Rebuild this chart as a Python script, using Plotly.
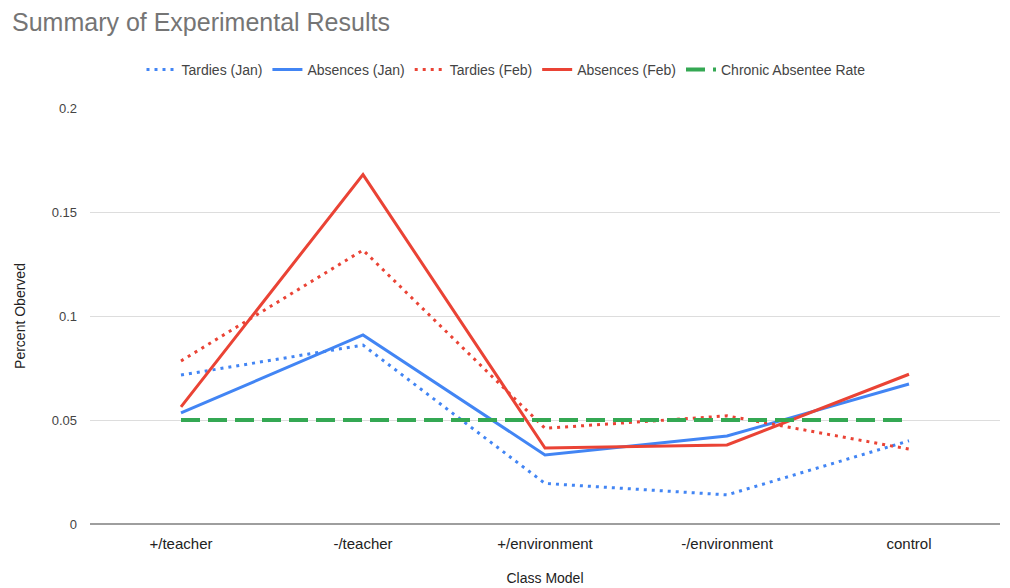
import plotly.graph_objects as go

categories = ["+/teacher", "-/teacher", "+/environment", "-/environment", "control"]
tardies_jan = [0.0716, 0.086, 0.0195, 0.014, 0.040]
absences_jan = [0.0534, 0.0909, 0.0332, 0.0423, 0.0673]
tardies_feb = [0.0784, 0.1317, 0.046, 0.052, 0.036]
absences_feb = [0.0563, 0.168, 0.0365, 0.038, 0.072]
chronic_rate = [0.05, 0.05, 0.05, 0.05, 0.05]
y_ticks = [0, 0.05, 0.1, 0.15, 0.2]
y_tick_labels = ["0", "0.05", "0.1", "0.15", "0.2"]

BLUE = "#4285F4"
RED = "#EA4335"
GREEN = "#34A853"
FONT = "Liberation Sans, Arial, sans-serif"

fig = go.Figure()
series = [
    ("Tardies (Jan)", tardies_jan, BLUE, "3px,5px", 3),
    ("Absences (Jan)", absences_jan, BLUE, "solid", 3),
    ("Tardies (Feb)", tardies_feb, RED, "3px,5px", 3),
    ("Absences (Feb)", absences_feb, RED, "solid", 3),
    ("Chronic Absentee Rate", chronic_rate, GREEN, "19px,8px", 4),
]
for name, vals, color, dash, w in series:
    fig.add_trace(go.Scatter(
        x=categories, y=vals, name=name, mode="lines",
        line=dict(color=color, dash=dash, width=w),
    ))

fig.update_layout(
    width=1010, height=588,
    paper_bgcolor="white", plot_bgcolor="white",
    margin=dict(l=90, r=10, t=108, b=64),
    font=dict(family=FONT, size=14, color="#222"),
    title=dict(
        text="Summary of Experimental Results",
        x=12 / 1010, xanchor="left", xref="container",
        y=1 - 22 / 588, yanchor="middle", yref="container",
        font=dict(size=25, color="#757575", family=FONT),
    ),
    legend=dict(
        orientation="h", x=506 / 1010, xanchor="center", xref="container",
        y=1 - 70 / 588, yanchor="middle", yref="container",
        font=dict(size=14, color="#444", family=FONT),
        traceorder="normal", itemwidth=30,
    ),
    xaxis=dict(
        title=dict(text="Class Model", font=dict(size=14, color="#222"), standoff=22),
        range=[-0.5, 4.5], showgrid=False, showline=False, zeroline=False,
        ticks="", tickfont=dict(size=15, color="#222"), ticklabelstandoff=9,
        automargin=False,
    ),
    yaxis=dict(
        title=dict(text="Percent Oberved", font=dict(size=14, color="#222"), standoff=22),
        range=[0, 0.2], tickvals=y_ticks, ticktext=y_tick_labels,
        showgrid=True, gridcolor="#dddddd", gridwidth=1,
        zeroline=True, zerolinecolor="#9e9e9e", zerolinewidth=2,
        showline=False, ticks="", tickfont=dict(size=13, color="#444"),
        ticklabelstandoff=12, automargin=False,
    ),
)

fig.write_html(
    "out.html",
    config={"displayModeBar": False},
    post_script="document.body.style.margin='0';",
)
